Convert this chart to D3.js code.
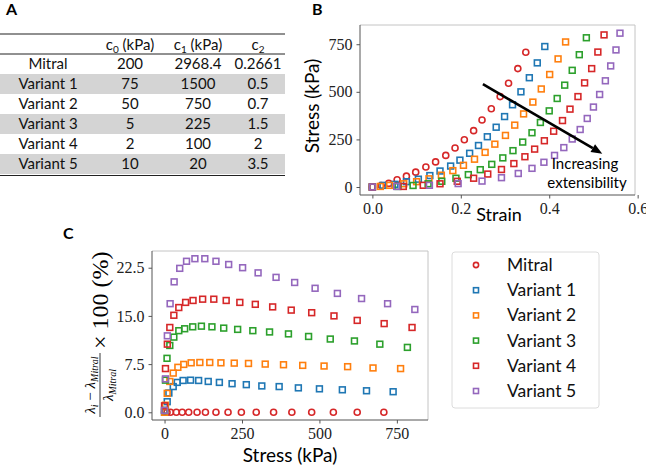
<!DOCTYPE html>
<html>
<head>
<meta charset="utf-8">
<script src="https://cdn.jsdelivr.net/npm/d3@7"></script>
<style>
  body { margin: 0; background: #fff; }
  svg { display: block; }
  .sans { font-family: Lato, "Open Sans", sans-serif; }
  .serif { font-family: "Liberation Serif", "DejaVu Serif", serif; }
</style>
</head>
<body>
<div id="chart"></div>
<script>
// DATA //

const seriesNames = ["Mitral", "Variant 1", "Variant 2", "Variant 3", "Variant 4", "Variant 5"];
const seriesColors = ["#d62728", "#1f77b4", "#ff7f0e", "#2ca02c", "#d62728", "#9467bd"];

// Table (panel A)
const tableRows = ["Mitral", "Variant 1", "Variant 2", "Variant 3", "Variant 4", "Variant 5"];
const c0Values = ["200", "75", "50", "5", "2", "10"];
const c1Values = ["2968.4", "1500", "750", "225", "100", "20"];
const c2Values = ["0.2661", "0.5", "0.7", "1.5", "2", "3.5"];

// Stress (kPa) of each sample
const mitralStress = [0, 8, 19, 38, 57, 78, 105, 132, 166, 205, 248, 296, 352, 411, 475, 545, 622, 708];
const v1Stress = [0, 8.6, 14, 28, 41, 60, 84, 110, 141, 177, 218, 264, 314, 370, 432, 500, 574, 652, 738];
const v2Stress = [0, 3, 8.6, 17, 28, 43, 62, 86, 114, 146, 182, 225, 271, 325, 384, 446, 515, 591, 673, 762];
const v3Stress = [0, 3, 8, 17, 30, 46, 65, 91, 119, 153, 191, 236, 285, 339, 400, 465, 535, 613, 695, 784];
const v4Stress = [0, 3, 9, 17, 30, 46, 68, 92, 123, 159, 199, 243, 293, 349, 409, 475, 547, 622, 709, 799];
const v5Stress = [0, 3, 9, 18, 31, 49, 71, 98, 130, 166, 207, 252, 302, 360, 420, 486, 558, 636, 720, 808];

// Strain of each sample (panel B)
const mitralStrain = [0, 0.020, 0.037, 0.056, 0.077, 0.098, 0.121, 0.143, 0.166, 0.187, 0.208, 0.229, 0.248, 0.269, 0.289, 0.308, 0.329, 0.347];
const v1Strain = [0, 0.024, 0.051, 0.077, 0.104, 0.130, 0.153, 0.177, 0.198, 0.220, 0.240, 0.260, 0.280, 0.299, 0.317, 0.336, 0.355, 0.373, 0.390];
const v2Strain = [0, 0.018, 0.039, 0.071, 0.100, 0.128, 0.156, 0.182, 0.206, 0.231, 0.255, 0.277, 0.301, 0.322, 0.342, 0.363, 0.382, 0.401, 0.420, 0.437];
const v3Strain = [0, 0.058, 0.092, 0.126, 0.157, 0.189, 0.217, 0.244, 0.270, 0.295, 0.318, 0.340, 0.361, 0.380, 0.400, 0.418, 0.435, 0.452, 0.468, 0.484];
const v4Strain = [0, 0.070, 0.115, 0.153, 0.192, 0.229, 0.261, 0.292, 0.320, 0.345, 0.367, 0.389, 0.410, 0.430, 0.447, 0.465, 0.480, 0.496, 0.510, 0.524];
const v5Strain = [0, 0.055, 0.129, 0.194, 0.248, 0.292, 0.330, 0.361, 0.388, 0.412, 0.433, 0.452, 0.470, 0.486, 0.500, 0.514, 0.527, 0.539, 0.551, 0.560];

// Relative stretch difference in % (panel C)
const mitralPct = [0, 0, 0, 0, 0, 0, 0, 0, 0, 0, 0, 0, 0, 0, 0, 0, 0, 0];
const v1Pct = [0, 1.65, 3.0, 4.0, 4.65, 4.95, 5.0, 4.95, 4.8, 4.65, 4.45, 4.3, 4.1, 4.0, 3.8, 3.65, 3.5, 3.35, 3.2];
const v2Pct = [0, 1.1, 2.95, 4.8, 6.1, 7.0, 7.45, 7.7, 7.75, 7.75, 7.7, 7.65, 7.6, 7.5, 7.4, 7.3, 7.2, 7.1, 6.9, 6.8];
const v3Pct = [0.3, 5.0, 8.4, 10.4, 11.7, 12.7, 13.0, 13.3, 13.4, 13.3, 13.1, 12.9, 12.7, 12.5, 12.2, 11.8, 11.4, 11.1, 10.6, 10.1];
const v4Pct = [1.0, 6.8, 10.6, 13.2, 15.1, 16.3, 17.1, 17.4, 17.6, 17.6, 17.4, 17.1, 16.8, 16.4, 15.9, 15.5, 15.0, 14.3, 13.8, 13.2];
const v5Pct = [0.3, 5.2, 11.9, 16.9, 20.3, 22.4, 23.5, 23.9, 23.9, 23.5, 23.0, 22.5, 21.7, 21.0, 20.2, 19.3, 18.5, 17.7, 16.9, 16.0];

const xTicksB = [0, 0.2, 0.4, 0.6];
const yTicksB = [0, 250, 500, 750];
const xTicksC = [0, 250, 500, 750];
const yTicksC = [0, 7.5, 15, 22.5];

// Build series table
const stressAll = [mitralStress, v1Stress, v2Stress, v3Stress, v4Stress, v5Stress];
const strainAll = [mitralStrain, v1Strain, v2Strain, v3Strain, v4Strain, v5Strain];
const pctAll = [mitralPct, v1Pct, v2Pct, v3Pct, v4Pct, v5Pct];
const series = seriesNames.map((name, i) => ({
  name,
  color: seriesColors[i],
  shape: i === 0 ? "circle" : "square",
  points: stressAll[i].map((s, j) => ({ stress: s, strain: strainAll[i][j], pct: pctAll[i][j] })),
}));

// SVG //

const width = 646, height = 468;
const svg = d3.select("#chart").append("svg")
  .attr("width", width).attr("height", height);

// Draw markers (circle or square) into a selection
function drawMarkers(g, data, s, x, y, size) {
  if (s.shape === "circle") {
    g.selectAll(null).data(data).join("circle")
      .attr("cx", x).attr("cy", y).attr("r", size * 0.52)
      .attr("fill", "none").attr("stroke", s.color).attr("stroke-width", 1.6);
  } else {
    g.selectAll(null).data(data).join("rect")
      .attr("x", (d) => x(d) - size / 2).attr("y", (d) => y(d) - size / 2)
      .attr("width", size).attr("height", size)
      .attr("fill", "none").attr("stroke", s.color).attr("stroke-width", 1.6);
  }
}

// Axes frame with ticks, in matplotlib style
function drawFrame(xScale, yScale, xTicks, yTicks, xFmt, yFmt) {
  const [x0, x1] = xScale.range();
  const [y0, y1] = yScale.range();
  const g = svg.append("g");
  g.append("line").attr("x1", x0).attr("x2", x1).attr("y1", y1).attr("y2", y1).attr("stroke", "#c4c4c4");
  g.append("line").attr("x1", x1).attr("x2", x1).attr("y1", y0).attr("y2", y1).attr("stroke", "#c4c4c4");
  g.append("g").attr("transform", `translate(0,${y0})`)
    .call(d3.axisBottom(xScale).tickValues(xTicks).tickFormat(xFmt).tickSize(3.5).tickPadding(4))
    .call((a) => a.selectAll(".tick line").attr("stroke", "#555"))
    .call((a) => a.selectAll("text").attr("class", "serif").attr("font-size", 16).attr("fill", "#222"));
  g.append("g").attr("transform", `translate(${x0},0)`)
    .call(d3.axisLeft(yScale).tickValues(yTicks).tickFormat(yFmt).tickSize(3.5).tickPadding(4))
    .call((a) => a.selectAll(".tick line").attr("stroke", "#555"))
    .call((a) => a.selectAll("text").attr("class", "serif").attr("font-size", 16).attr("fill", "#222"));
  g.selectAll(".domain").remove();
  g.append("line").attr("x1", x0).attr("x2", x1).attr("y1", y0).attr("y2", y0).attr("stroke", "#555");
  g.append("line").attr("x1", x0).attr("x2", x0).attr("y1", y0).attr("y2", y1).attr("stroke", "#555");
  return g;
}

// PANEL A: TABLE //

svg.append("text").attr("class", "sans").attr("x", 6).attr("y", 15)
  .attr("font-size", 16).attr("font-weight", "bold").text("A");

const tableX = [48, 130, 198, 258];
const rowY0 = 64, rowH = 20;
const tbl = svg.append("g").attr("class", "sans").attr("font-size", 15).attr("fill", "#111");

tableRows.forEach((r, i) => {
  if (i % 2 === 1) {
    tbl.append("rect").attr("x", 0).attr("y", rowY0 + i * rowH - 10)
      .attr("width", 285).attr("height", rowH).attr("fill", "#d4d4d4");
  }
});
tbl.append("line").attr("x1", 0).attr("x2", 285).attr("y1", 34).attr("y2", 34).attr("stroke", "#222").attr("stroke-width", 1.2);
tbl.append("line").attr("x1", 0).attr("x2", 285).attr("y1", 54).attr("y2", 54).attr("stroke", "#222").attr("stroke-width", 1);
tbl.append("line").attr("x1", 0).attr("x2", 285).attr("y1", 175.5).attr("y2", 175.5).attr("stroke", "#222").attr("stroke-width", 1.2);

const headers = [["c", "0", " (kPa)"], ["c", "1", " (kPa)"], ["c", "2", ""]];
headers.forEach((h, i) => {
  const t = tbl.append("text").attr("x", tableX[i + 1]).attr("y", 50).attr("text-anchor", "middle");
  t.append("tspan").text(h[0]);
  t.append("tspan").attr("font-size", 10).attr("dy", 3).text(h[1]);
  t.append("tspan").attr("dy", -3).text(h[2]);
});

tableRows.forEach((r, i) => {
  const y = rowY0 + i * rowH + 5;
  [r, c0Values[i], c1Values[i], c2Values[i]].forEach((v, k) => {
    tbl.append("text").attr("x", tableX[k]).attr("y", y).attr("text-anchor", "middle").text(v);
  });
});

// PANEL B: STRESS-STRAIN //

const xB = d3.scaleLinear().domain([-0.028, 0.594]).range([360, 635]);
const yB = d3.scaleLinear().domain([-42, 851]).range([195, 25]);

svg.append("text").attr("class", "sans").attr("x", 312).attr("y", 15)
  .attr("font-size", 16).attr("font-weight", "bold").text("B");

drawFrame(xB, yB, xTicksB, yTicksB, d3.format(".1f"), d3.format("d"));

const gB = svg.append("g");
series.forEach((s) => {
  drawMarkers(gB.append("g"), s.points, s, (d) => xB(d.strain), (d) => yB(d.stress), 5.8);
});

// Arrow showing increasing extensibility
const arrowStart = [0.25, 540], arrowEnd = [0.52, 175];
const ax0 = xB(arrowStart[0]), ay0 = yB(arrowStart[1]);
const ax1 = xB(arrowEnd[0]), ay1 = yB(arrowEnd[1]);
const ang = Math.atan2(ay1 - ay0, ax1 - ax0);
const headL = 11, headW = 4.5;
svg.append("line")
  .attr("x1", ax0).attr("y1", ay0)
  .attr("x2", ax1 - headL * Math.cos(ang)).attr("y2", ay1 - headL * Math.sin(ang))
  .attr("stroke", "#000").attr("stroke-width", 2.6);
svg.append("path")
  .attr("d", `M${ax1},${ay1}` +
    `L${ax1 - headL * Math.cos(ang) + headW * Math.sin(ang)},${ay1 - headL * Math.sin(ang) - headW * Math.cos(ang)}` +
    `L${ax1 - headL * Math.cos(ang) - headW * Math.sin(ang)},${ay1 - headL * Math.sin(ang) + headW * Math.cos(ang)}Z`)
  .attr("fill", "#000");

svg.append("text").attr("class", "sans").attr("x", 585).attr("y", 169)
  .attr("text-anchor", "middle").attr("font-size", 15).text("Increasing");
svg.append("text").attr("class", "sans").attr("x", 587).attr("y", 188)
  .attr("text-anchor", "middle").attr("font-size", 15).text("extensibility");

svg.append("text").attr("class", "sans").attr("x", 499).attr("y", 221)
  .attr("text-anchor", "middle").attr("font-size", 18).text("Strain");
svg.append("text").attr("class", "sans")
  .attr("transform", "translate(319,106) rotate(-90)")
  .attr("text-anchor", "middle").attr("font-size", 19).text("Stress (kPa)");

// PANEL C: STRETCH DIFFERENCE //

const xC = d3.scaleLinear().domain([-40.5, 850.5]).range([152, 428]);
const yC = d3.scaleLinear().domain([-1.2, 25.1]).range([420, 251]);

svg.append("text").attr("class", "sans").attr("x", 63).attr("y", 239)
  .attr("font-size", 16).attr("font-weight", "bold").text("C");

drawFrame(xC, yC, xTicksC, yTicksC, d3.format("d"), d3.format(".1f"));

const gC = svg.append("g");
series.forEach((s) => {
  drawMarkers(gC.append("g"), s.points, s, (d) => xC(d.stress), (d) => yC(d.pct), 5.8);
});

svg.append("text").attr("class", "sans").attr("x", 290).attr("y", 462)
  .attr("text-anchor", "middle").attr("font-size", 19).text("Stress (kPa)");

// Y label: fraction x 100 (%)
const yl = svg.append("g").attr("class", "serif").attr("transform", "translate(100,385) rotate(-90)");
const num = yl.append("text").attr("y", -5).attr("text-anchor", "middle").attr("font-size", 15).attr("font-style", "italic");
num.append("tspan").text("λ");
num.append("tspan").attr("font-size", 10).attr("dy", 3).text("i");
num.append("tspan").attr("dy", -3).attr("font-style", "normal").text(" − ");
num.append("tspan").text("λ");
num.append("tspan").attr("font-size", 10).attr("dy", 3).text("Mitral");
yl.append("line").attr("x1", -32).attr("x2", 32).attr("y1", 0).attr("y2", 0).attr("stroke", "#222").attr("stroke-width", 0.9);
const den = yl.append("text").attr("y", 13).attr("text-anchor", "middle").attr("font-size", 15).attr("font-style", "italic");
den.append("tspan").text("λ");
den.append("tspan").attr("font-size", 10).attr("dy", 3).text("Mitral");
yl.append("text").attr("x", 36).attr("y", 8).attr("font-size", 24).text("× 100 (%)");

// Legend
const leg = svg.append("g").attr("class", "sans");
leg.append("rect").attr("x", 452).attr("y", 252).attr("width", 147).attr("height", 156)
  .attr("rx", 3).attr("fill", "#fff").attr("stroke", "#dcdcdc");
series.forEach((s, i) => {
  const y = 265 + i * 25.2;
  drawMarkers(leg.append("g"), [0], s, () => 476, () => y, 5);
  leg.append("text").attr("x", 507).attr("y", y + 6).attr("font-size", 17.5).attr("fill", "#111").text(s.name);
});
</script>
</body>
</html>
